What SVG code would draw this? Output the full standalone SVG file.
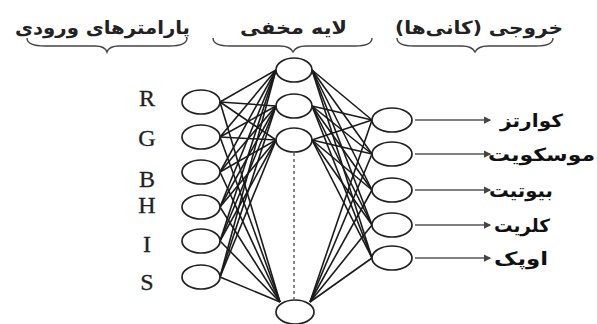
<svg xmlns="http://www.w3.org/2000/svg" width="597" height="324" viewBox="0 0 597 324">
<defs>
<style>
.n{fill:#fff;stroke:#222;stroke-width:1.7}
.c line{stroke:#1a1a1a;stroke-width:1.6}
.o line{stroke:#555;stroke-width:1.5}
.h{font-family:"DejaVu Sans","Noto Sans",sans-serif;font-weight:bold;font-size:18px;fill:#222}
.lab{font-family:"DejaVu Sans","Noto Sans",sans-serif;font-weight:bold;font-size:18px;fill:#111}
.L{font-family:"Liberation Serif",serif;font-size:24px;fill:#222;text-anchor:middle;stroke:#222;stroke-width:0.3}
.br{fill:none;stroke:#444;stroke-width:1.4}
</style>
<marker id="ar" viewBox="0 0 6 6" refX="5" refY="3" markerWidth="5" markerHeight="5" orient="auto"><path d="M0,0 L6,3 L0,6 z" fill="#444"/></marker>
</defs>
<rect width="597" height="324" fill="#fff"/>
<g id="headers">
<text class="h" x="15" y="34" textLength="175" lengthAdjust="spacingAndGlyphs">پارامترهای ورودی</text>
<path class="br" d="M27,38 Q27,46 45,46 L95,46 Q105,46 107,52 Q109,46 119,46 L169,46 Q187,46 187,38"/>
<text class="h" x="240" y="34" textLength="107" lengthAdjust="spacingAndGlyphs">لایه مخفی</text>
<path class="br" d="M213,38 Q213,46 230,46 L280,46 Q290,46 293,52 Q296,46 306,46 L355,46 Q372,46 372,38"/>
<text class="h" x="479" y="34" text-anchor="middle" direction="rtl" textLength="168" lengthAdjust="spacingAndGlyphs">خروجی (کانی‌ها)</text>
<path class="br" d="M397,38 Q397,46 414,46 L462,46 Q472,46 475,52 Q478,46 488,46 L536,46 Q553,46 553,38"/>
</g>
<g class="c" id="connectors">
<line x1="220" y1="102" x2="276" y2="70"/><line x1="220" y1="102" x2="276" y2="106"/><line x1="220" y1="102" x2="276" y2="140"/><line x1="220" y1="102" x2="280" y2="302"/>
<line x1="220" y1="137" x2="276" y2="70"/><line x1="220" y1="137" x2="276" y2="106"/><line x1="220" y1="137" x2="276" y2="140"/><line x1="220" y1="137" x2="280" y2="302"/>
<line x1="220" y1="172" x2="276" y2="70"/><line x1="220" y1="172" x2="276" y2="106"/><line x1="220" y1="172" x2="276" y2="140"/><line x1="220" y1="172" x2="280" y2="302"/>
<line x1="220" y1="207" x2="276" y2="70"/><line x1="220" y1="207" x2="276" y2="106"/><line x1="220" y1="207" x2="276" y2="140"/><line x1="220" y1="207" x2="280" y2="302"/>
<line x1="220" y1="241" x2="276" y2="70"/><line x1="220" y1="241" x2="276" y2="106"/><line x1="220" y1="241" x2="276" y2="140"/><line x1="220" y1="241" x2="280" y2="302"/>
<line x1="220" y1="277" x2="276" y2="70"/><line x1="220" y1="277" x2="276" y2="106"/><line x1="220" y1="277" x2="276" y2="140"/><line x1="220" y1="277" x2="280" y2="302"/>
<line x1="312" y1="70" x2="372" y2="120"/><line x1="312" y1="70" x2="372" y2="154"/><line x1="312" y1="70" x2="372" y2="190"/><line x1="312" y1="70" x2="372" y2="225"/><line x1="312" y1="70" x2="372" y2="258"/>
<line x1="312" y1="106" x2="372" y2="120"/><line x1="312" y1="106" x2="372" y2="154"/><line x1="312" y1="106" x2="372" y2="190"/><line x1="312" y1="106" x2="372" y2="225"/><line x1="312" y1="106" x2="372" y2="258"/>
<line x1="312" y1="140" x2="372" y2="120"/><line x1="312" y1="140" x2="372" y2="154"/><line x1="312" y1="140" x2="372" y2="190"/><line x1="312" y1="140" x2="372" y2="225"/><line x1="312" y1="140" x2="372" y2="258"/>
<line x1="310" y1="302" x2="372" y2="120"/><line x1="310" y1="302" x2="372" y2="154"/><line x1="310" y1="302" x2="372" y2="190"/><line x1="310" y1="302" x2="372" y2="225"/><line x1="310" y1="302" x2="372" y2="258"/>
<line x1="294" y1="153" x2="294" y2="299" stroke-dasharray="3,3" style="stroke:#555;stroke-width:1.4"/>
</g>
<g class="o" id="outputs">
<line x1="415" y1="120" x2="490" y2="120" marker-end="url(#ar)"/>
<line x1="415" y1="154" x2="490" y2="154" marker-end="url(#ar)"/>
<line x1="415" y1="190" x2="490" y2="190" marker-end="url(#ar)"/>
<line x1="415" y1="225" x2="490" y2="225" marker-end="url(#ar)"/>
<line x1="415" y1="258" x2="490" y2="258" marker-end="url(#ar)"/>
</g>
<g id="in-R"><text class="L" x="147" y="106">R</text><ellipse class="n" cx="201" cy="102" rx="19" ry="12"/></g>
<g id="in-G"><text class="L" x="147" y="146">G</text><ellipse class="n" cx="201" cy="137" rx="19" ry="12"/></g>
<g id="in-B"><text class="L" x="147" y="187">B</text><ellipse class="n" cx="201" cy="172" rx="19" ry="12"/></g>
<g id="in-H"><text class="L" x="147" y="213">H</text><ellipse class="n" cx="201" cy="207" rx="19" ry="12"/></g>
<g id="in-I"><text class="L" x="147" y="252">I</text><ellipse class="n" cx="201" cy="241" rx="19" ry="12"/></g>
<g id="in-S"><text class="L" x="147" y="290">S</text><ellipse class="n" cx="201" cy="277" rx="19" ry="12"/></g>
<g id="hid-1"><ellipse class="n" cx="294" cy="70" rx="18" ry="12"/></g>
<g id="hid-2"><ellipse class="n" cx="294" cy="106" rx="18" ry="12"/></g>
<g id="hid-3"><ellipse class="n" cx="294" cy="140" rx="18" ry="12"/></g>
<g id="hid-n"><ellipse class="n" cx="295" cy="312" rx="19" ry="12"/></g>
<g id="out-1"><ellipse class="n" cx="392" cy="120" rx="20" ry="12"/><text class="lab" x="500" y="127" textLength="63" lengthAdjust="spacingAndGlyphs">کوارتز</text></g>
<g id="out-2"><ellipse class="n" cx="392" cy="154" rx="20" ry="12"/><text class="lab" x="488" y="161" textLength="107" lengthAdjust="spacingAndGlyphs">موسکویت</text></g>
<g id="out-3"><ellipse class="n" cx="392" cy="190" rx="20" ry="12"/><text class="lab" x="489" y="197" textLength="64" lengthAdjust="spacingAndGlyphs">بیوتیت</text></g>
<g id="out-4"><ellipse class="n" cx="392" cy="225" rx="20" ry="12"/><text class="lab" x="494" y="232" textLength="56" lengthAdjust="spacingAndGlyphs">کلریت</text></g>
<g id="out-5"><ellipse class="n" cx="392" cy="258" rx="20" ry="12"/><text class="lab" x="494" y="265" textLength="54" lengthAdjust="spacingAndGlyphs">اوپک</text></g>
</svg>
